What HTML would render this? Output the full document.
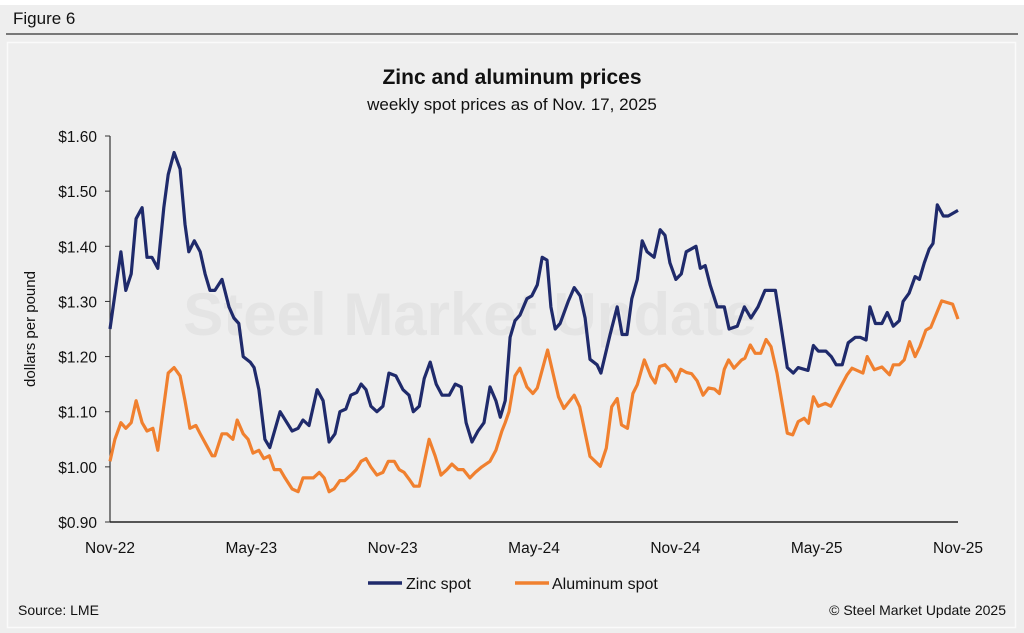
<!DOCTYPE html>
<html><head><meta charset="utf-8"><style>
body{margin:0;background:#fff;}
#wrap{position:relative;width:1024px;height:633px;overflow:hidden;background:#fff;font-family:"Liberation Sans",Arial,sans-serif;}
svg{position:absolute;left:0;top:0;}
</style></head><body>
<div id="wrap">
<svg id="chart" width="1024" height="633"></svg>
</div>
<script>
const yTicks=[0.9,1.0,1.1,1.2,1.3,1.4,1.5,1.6];
const yTickLabels=["$0.90","$1.00","$1.10","$1.20","$1.30","$1.40","$1.50","$1.60"];
const xTickWeeks=[0,26,52,78,104,130,156];
const xTickLabels=["Nov-22","May-23","Nov-23","May-24","Nov-24","May-25","Nov-25"];
const zincWeeks=[0,2,2.9,3.9,4.8,5.9,6.8,7.7,8.8,9.9,10.7,11.8,12.9,13.8,14.5,15.5,16.6,17.5,18.4,19.3,20.6,21.9,22.8,23.7,24.5,25.8,26.5,27.4,28.5,29.4,31.3,33.5,34.6,35.5,36.6,38.1,39.2,40.3,41.4,42.3,43.4,44.3,45.4,46.2,47.1,48,49.1,50.2,51.3,52.6,53.9,55,55.8,56.9,57.8,58.9,60,61.1,62.4,63.5,64.6,65.5,66.6,67.7,68.8,69.9,71,71.8,72.7,73.6,74.5,75.4,76.7,77.6,78.6,79.5,80.4,81.1,81.9,82.8,84.3,85.4,86.5,87.4,88.3,89.6,90.3,92,93.3,94.2,95.1,96,97,97.9,98.8,100.1,101.2,102.1,103,104.1,105.1,106,107.8,108.6,109.5,110.4,111.7,113,113.9,115.4,116.7,117.9,119.2,120.5,122.4,123.3,124.6,125.7,126.6,128.4,129.4,130.3,131.7,132.7,133.6,134.7,135.8,137.1,138,139.1,139.8,140.8,142,143,144.1,145.2,145.9,147,148.1,148.9,149.8,150.7,151.4,152.2,153.3,154.2,156];
const zincValues=[1.25,1.39,1.32,1.35,1.45,1.47,1.38,1.38,1.36,1.47,1.53,1.57,1.54,1.44,1.39,1.41,1.39,1.35,1.32,1.32,1.34,1.29,1.27,1.26,1.2,1.19,1.18,1.14,1.05,1.035,1.1,1.065,1.07,1.085,1.075,1.14,1.12,1.045,1.06,1.1,1.105,1.13,1.135,1.15,1.14,1.11,1.1,1.11,1.17,1.165,1.14,1.13,1.1,1.11,1.16,1.19,1.15,1.13,1.13,1.15,1.145,1.08,1.045,1.065,1.08,1.145,1.12,1.09,1.12,1.235,1.265,1.275,1.305,1.31,1.33,1.38,1.375,1.29,1.25,1.26,1.3,1.325,1.31,1.27,1.195,1.185,1.17,1.24,1.29,1.24,1.24,1.305,1.34,1.41,1.39,1.38,1.43,1.42,1.37,1.34,1.35,1.39,1.4,1.36,1.365,1.33,1.29,1.29,1.25,1.255,1.29,1.27,1.29,1.32,1.32,1.265,1.18,1.17,1.18,1.175,1.22,1.21,1.21,1.2,1.185,1.185,1.225,1.235,1.235,1.23,1.29,1.26,1.26,1.28,1.255,1.265,1.3,1.315,1.345,1.34,1.37,1.395,1.405,1.475,1.455,1.455,1.465];
const alumWeeks=[0,0.9,2,2.9,3.9,4.8,5.9,6.8,7.9,8.8,10.7,11.8,12.9,13.8,14.7,15.8,16.6,17.7,18.8,19.3,20.6,21.5,22.6,23.4,24.5,25.4,26.3,27.4,28.3,29.3,30.2,31.3,32.2,33.5,34.6,35.5,37.4,38.5,39.4,40.3,41.2,42.3,43.2,44.3,45.3,46.2,47.1,48,49.1,50.2,51.2,52.3,53.2,54.1,55.2,55.9,56.9,58.7,59.8,60.9,62,62.9,64,65,66.2,67.2,68.4,69.9,71,72.1,72.7,73.4,74.5,75.4,76.7,77.8,78.6,80.5,82.5,83.5,85.4,86.4,88.3,90.2,91.3,92.3,93.3,94.1,95.2,96.2,97,98.3,99.5,100.3,101.1,102.1,103.2,104.1,105,106.1,107,108,109.1,110.1,111.2,112.1,113,113.8,114.8,116.2,116.8,117.8,118.7,119.7,120.7,121.6,122.7,124.6,125.6,126.6,127.7,128.5,129.4,130.3,131.6,132.6,134.3,135.6,136.5,138.5,139.3,140.6,142,143.4,144.1,145.2,146.1,147.1,148.1,149,150.1,151,153,155,156];
const alumValues=[1.01,1.05,1.08,1.07,1.08,1.12,1.08,1.065,1.07,1.03,1.17,1.18,1.165,1.12,1.07,1.075,1.06,1.04,1.02,1.02,1.06,1.06,1.05,1.085,1.06,1.05,1.025,1.03,1.015,1.02,0.995,0.995,0.98,0.96,0.955,0.98,0.98,0.99,0.98,0.955,0.96,0.975,0.975,0.985,0.995,1.01,1.015,1.0,0.985,0.99,1.01,1.01,0.995,0.99,0.975,0.965,0.965,1.05,1.02,0.985,0.995,1.005,0.995,0.995,0.98,0.99,1.0,1.01,1.03,1.065,1.08,1.1,1.165,1.179,1.145,1.133,1.143,1.212,1.127,1.106,1.13,1.109,1.019,1.001,1.034,1.109,1.124,1.076,1.07,1.133,1.149,1.194,1.164,1.152,1.182,1.185,1.173,1.155,1.177,1.171,1.169,1.156,1.13,1.143,1.141,1.133,1.177,1.194,1.179,1.194,1.197,1.221,1.206,1.206,1.231,1.218,1.17,1.061,1.058,1.082,1.088,1.079,1.127,1.11,1.115,1.11,1.143,1.167,1.179,1.17,1.2,1.176,1.181,1.167,1.185,1.185,1.194,1.227,1.2,1.218,1.248,1.253,1.301,1.295,1.268];

const NS="http://www.w3.org/2000/svg";
const svg=document.getElementById('chart');
const X0=110,X1=958,Y0=522,Y1=136;
function xScale(w){return X0+(w/156)*(X1-X0);}
function yScale(v){return Y0-(v-0.9)/(1.6-0.9)*(Y0-Y1);}
function mk(tag,attrs,parent){const e=document.createElementNS(NS,tag);for(const k in attrs)e.setAttribute(k,attrs[k]);(parent||svg).appendChild(e);return e;}
function txt(s,attrs){const t=mk('text',attrs);t.textContent=s;return t;}

let e;
e=mk('rect',{x:0,y:5,width:1024,height:628,fill:'#eeeeee'});


e=mk('line',{x1:6,y1:34,x2:1018,y2:34,stroke:'#333',"stroke-width":1.3});


e=txt('Figure 6',{x:13,y:24,"font-size":17,fill:'#111'});


e=mk('rect',{x:7.5,y:42.5,width:1008,height:585,fill:'none',stroke:'#fafafa',"stroke-width":1.5});


e=txt('Zinc and aluminum prices',{x:512,y:84,"font-size":21,"font-weight":'bold',"text-anchor":'middle',fill:'#111'});


e=txt('weekly spot prices as of Nov. 17, 2025',{x:512,y:110,"font-size":17,"text-anchor":'middle',fill:'#111'});


e=txt('Steel Market Update',{x:470,y:335,"font-size":60,"font-weight":'bold',"text-anchor":'middle',fill:'#e4e4e4'});



yTicks.forEach((v,i)=>{
  const y=yScale(v);
  const t=mk('line',{x1:X0-5,y1:y,x2:X0,y2:y,stroke:'#333',"stroke-width":1});
  
  
  const l=txt(yTickLabels[i],{x:97,y:y+6,"font-size":15.5,"text-anchor":'end',fill:'#111'});
  
  
});
xTickWeeks.forEach((w,i)=>{
  const l=txt(xTickLabels[i],{x:xScale(w),y:553,"font-size":15.5,"text-anchor":'middle',fill:'#111'});
  
  
});
e=mk('line',{x1:X0,y1:Y1,x2:X0,y2:Y0,stroke:'#333',"stroke-width":1.2});


e=mk('line',{x1:X0,y1:Y0,x2:X1,y2:Y0,stroke:'#222',"stroke-width":1.4});


e=txt('dollars per pound',{x:0,y:0,"font-size":15,"text-anchor":'middle',fill:'#111',transform:'translate(35,329) rotate(-90)'});



function pts(ws,vs){return ws.map((w,i)=>xScale(w).toFixed(1)+','+yScale(vs[i]).toFixed(1)).join(' ');}
e=mk('polyline',{points:pts(alumWeeks,alumValues),fill:'none',stroke:'#f0802f',"stroke-width":3.2,"stroke-linejoin":'round'});


e=mk('polyline',{points:pts(zincWeeks,zincValues),fill:'none',stroke:'#1f2a6b',"stroke-width":3.2,"stroke-linejoin":'round'});



e=mk('line',{x1:368,y1:583,x2:402,y2:583,stroke:'#1f2a6b',"stroke-width":3.5});


e=txt('Zinc spot',{x:406,y:589,"font-size":16,fill:'#111'});


e=mk('line',{x1:515,y1:583,x2:549,y2:583,stroke:'#f0802f',"stroke-width":3.5});


e=txt('Aluminum spot',{x:552,y:589,"font-size":16,fill:'#111'});


e=txt('Source: LME',{x:18,y:615,"font-size":14,fill:'#111'});


e=txt('© Steel Market Update 2025',{x:1006,y:615,"font-size":14,"text-anchor":'end',fill:'#111'});


</script>
</body></html>
